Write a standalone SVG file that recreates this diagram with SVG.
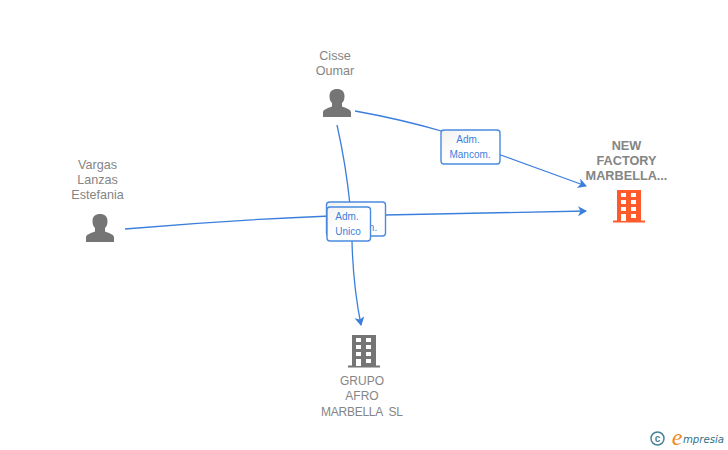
<svg xmlns="http://www.w3.org/2000/svg" width="728" height="450" viewBox="0 0 728 450">
<style>
text{font-family:"Liberation Sans",Arial,sans-serif;text-anchor:middle;white-space:pre}
.n{font-size:12.600px;fill:#858585}
.g{font-size:12px;fill:#858585}
.b{font-size:12.700px;fill:#858585;font-weight:700}
.e{fill:none;stroke:#3b7fdc;stroke-width:1.3}
.box{fill:url(#g);stroke:#4a8ade;stroke-width:1.4}
.l{font-size:10px;fill:#3b7fdc}
.win{fill:#fff}
</style>
<defs>
<linearGradient id="g" x1="0" y1="0" x2="1" y2="1"><stop offset="0" stop-color="#f1f1f1"/><stop offset="0.45" stop-color="#fff"/></linearGradient>
<path id="p" d="M-14 14V9.500C-14 6.500-10 5.500-5 3.500V0C-7 -2-7.500 -4-7.500 -7C-7.500 -11.500-4.500 -14 0 -14C4.500 -14 7.500 -11.500 7.500 -7C7.500 -4 7-2 5 0V3.500C10 5.500 14 6.500 14 9.500V14Z" fill="#757575"/>
<g id="bd">
<path d="M-16 15.500V13.500H-12V-17H12V13.500H16V15.500Z" fill="currentColor"/>
<g class="win"><rect x="-8" y="-14" width="5" height="4"/><rect x="2" y="-14" width="5" height="4"/><rect x="-8" y="-7" width="5" height="4"/><rect x="2" y="-7" width="5" height="4"/><rect x="-8" y="0" width="5" height="4"/><rect x="2" y="0" width="5" height="4"/><rect x="-8" y="7" width="5" height="7"/><rect x="2" y="7" width="5" height="4"/></g>
</g>
<marker id="a" markerWidth="12" markerHeight="12" refX="8" refY="5" orient="auto" markerUnits="userSpaceOnUse"><path d="M0 0L9 5L0 10L2.500 5Z" fill="#3b7fdc"/></marker>
</defs>
<g id="connectors">
<path class="e" d="M355 111Q400 119 445 132"/>
<path class="e" d="M498 154L586 186" marker-end="url(#a)"/>
<path class="e" d="M125 229Q230 220 330 216"/>
<path class="e" d="M385 215L586 211" marker-end="url(#a)"/>
<path class="e" d="M337 125Q346 165 350 205"/>
<path class="e" d="M352 241Q353 285 361 325" marker-end="url(#a)"/>
</g>
<g id="edge-label-1"><rect class="box" x="441" y="130" width="59" height="34" rx="3"/><text class="l" x="468" y="143">Adm.</text><text class="l" x="470" y="158">Mancom.</text></g>
<g id="edge-label-2"><rect class="box" x="326.500" y="202" width="59" height="34" rx="3"/><text class="l" x="373" y="231">n.</text></g>
<g id="edge-label-3"><rect class="box" x="327" y="207" width="43.500" height="34" rx="3"/><text class="l" x="347" y="220">Adm.</text><text class="l" x="348" y="235">Unico</text></g>
<g id="node-cisse"><text class="n" x="335" y="60">Cisse</text><text class="n" x="335" y="75">Oumar</text><use href="#p" x="337" y="103"/></g>
<g id="node-vargas"><text class="n" x="97.500" y="169">Vargas</text><text class="n" x="97.500" y="184">Lanzas</text><text class="n" x="97.500" y="199">Estefania</text><use href="#p" x="100" y="228"/></g>
<g id="node-newfactory"><text class="b" x="626.500" y="150">NEW</text><text class="b" x="626.500" y="165">FACTORY</text><text class="b" x="626.500" y="180">MARBELLA...</text><use href="#bd" x="629" y="207" color="#ff5a2b"/></g>
<g id="node-grupo"><use href="#bd" x="364" y="352" color="#757575"/><text class="g" x="362" y="385">GRUPO</text><text class="g" x="362" y="400">AFRO</text><text class="g" x="362" y="416" textLength="82">MARBELLA  SL</text></g>
<g id="logo"><circle cx="657.500" cy="438.500" r="6.500" fill="none" stroke="#4a8296" stroke-width="1.500"/><text x="657.500" y="442" style="font-size:10px;fill:#4a8296;font-weight:700">c</text><text x="677" y="445" style="font-family:'Liberation Serif',serif;font-size:24px;font-style:italic;fill:#f08a1d">e</text><text x="703.500" y="443" style="font-family:'DejaVu Sans',sans-serif;font-size:11px;font-style:italic;fill:#2f6f86" textLength="41" lengthAdjust="spacingAndGlyphs">mpresia</text></g>
</svg>
